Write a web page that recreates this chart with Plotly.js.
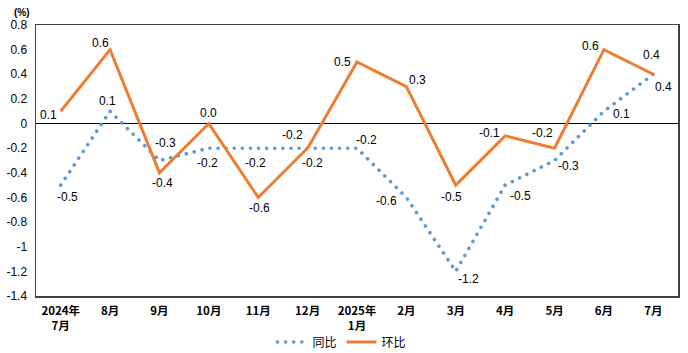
<!DOCTYPE html>
<html><head><meta charset="utf-8">
<script src="https://cdn.plot.ly/plotly-3.0.1.min.js"></script>
<style>html,body{margin:0;padding:0;background:#fff}#c{width:688px;height:353px}</style>
</head><body><div id="c"></div>
<script>
const categories = ["2024年<br>7月","8月","9月","10月","11月","12月","2025年<br>1月","2月","3月","4月","5月","6月","7月"];
const tongbi = [-0.5, 0.1, -0.3, -0.2, -0.2, -0.2, -0.2, -0.6, -1.2, -0.5, -0.3, 0.1, 0.4];
const huanbi = [0.1, 0.6, -0.4, 0.0, -0.6, -0.2, 0.5, 0.3, -0.5, -0.1, -0.2, 0.6, 0.4];
const tickVals = [0.8,0.6,0.4,0.2,0,-0.2,-0.4,-0.6,-0.8,-1,-1.2,-1.4];
const tickText = ["0.8","0.6","0.4","0.2","0","-0.2","-0.4","-0.6","-0.8","-1","-1.2","-1.4"];

// label offsets in pixels (style only): [dx, dy] with dy positive = downward
const tbOff = [[7,12],[-3,-10],[6,-18],[-1,15],[-3,15],[5,15],[9,-8],[-20,4],[13,8],[15,11],[14,5],[18,3],[10,13]];
const hbOff = [[-12,4],[-10,-7],[3,10],[0,-11],[1,11],[-15,-13],[-15,0],[11,-7],[-4,12],[-16,-3],[-12,-15],[-13,-4],[-2,-19]];

const fmt = v => (v<0?"-":"") + Math.abs(v).toFixed(1);
const lblFont = {family:"Arial, 'Liberation Sans', sans-serif", size:12, color:"#000"};
const BLUE = "#5B9BD5", ORANGE = "#ED7D31";

const traces = [
 {x:categories, y:tongbi, name:"同比", mode:"lines", type:"scatter",
  line:{color:BLUE, width:3.6, dash:"0.1px,8px"}},
 {x:categories, y:huanbi, name:"环比", mode:"lines", type:"scatter",
  line:{color:ORANGE, width:3}}
];
const annotations = [];
tongbi.forEach((v,i)=>annotations.push({x:categories[i], y:v, text:fmt(v), showarrow:false,
  xshift:tbOff[i][0], yshift:-tbOff[i][1], font:lblFont}));
huanbi.forEach((v,i)=>annotations.push({x:categories[i], y:v, text:fmt(v), showarrow:false,
  xshift:hbOff[i][0], yshift:-hbOff[i][1], font:lblFont}));
annotations.push({text:"<b>(%)</b>", xref:"paper", yref:"paper", x:-0.022, y:1, xanchor:"center", yanchor:"bottom", yshift:5, showarrow:false,
  font:{family:"Arial, 'Liberation Sans', sans-serif", size:10, color:"#000"}});

const layout = {
 width:688, height:353,
 margin:{l:36, r:10, t:25, b:57},
 paper_bgcolor:"#fff", plot_bgcolor:"#fff",
 showlegend:true,
 legend:{orientation:"h", xref:"container", yref:"container", x:0.497, xanchor:"center", y:0.031, yanchor:"middle",
  font:{family:"'Noto Sans CJK SC', sans-serif", size:12, color:"#000"}, itemwidth:30, tracegroupgap:0, bgcolor:"rgba(0,0,0,0)"},
 xaxis:{type:"category", range:[-0.5,12.5], showgrid:false, zeroline:false, automargin:false,
  showline:true, mirror:true, linecolor:"#404040", linewidth:1.5, ticks:"", ticklabelstandoff:4,
  tickfont:{family:"'Noto Sans CJK SC', sans-serif", size:11.5, color:"#000", weight:"bold"}},
 yaxis:{range:[-1.4,0.8], tickvals:tickVals, ticktext:tickText, showgrid:false, automargin:false,
  zeroline:true, zerolinecolor:"#000", zerolinewidth:1,
  showline:true, mirror:true, linecolor:"#404040", linewidth:1.5, ticks:"", ticklabelstandoff:5,
  tickfont:{family:"Arial, 'Liberation Sans', sans-serif", size:12, color:"#000"}},
 annotations:annotations
};
Plotly.newPlot("c", traces, layout, {displayModeBar:false, staticPlot:true}).then(gd=>{
  gd.querySelectorAll("path.js-line").forEach(p=>{
    const da = p.style.strokeDasharray;
    if (da && da !== "none") { p.style.strokeLinecap = "round"; }
  });
});
</script></body></html>
